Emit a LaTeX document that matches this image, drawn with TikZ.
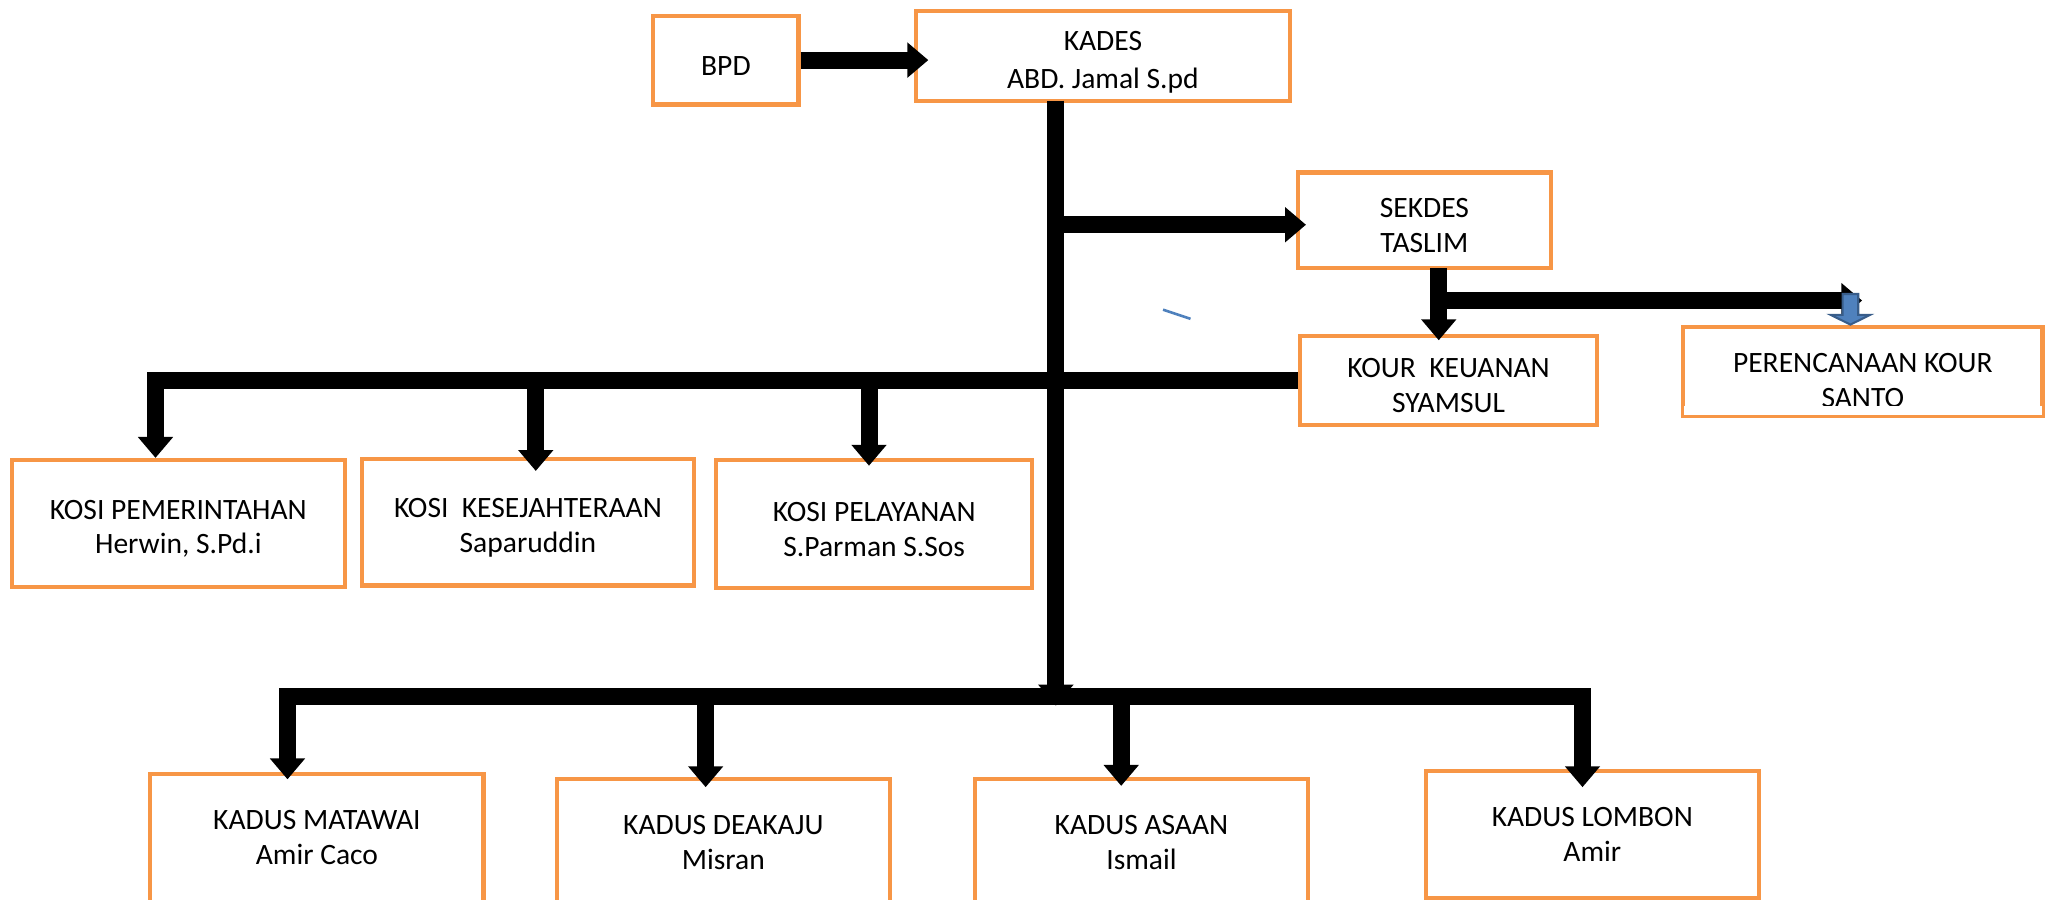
\documentclass[tikz,border=0pt]{standalone}
\usepackage{fontspec}
\setmainfont{Carlito}
\usetikzlibrary{arrows.meta}
\definecolor{boxorange}{HTML}{F79646}
\definecolor{ablue}{HTML}{4F81BD}
\definecolor{ablueedge}{HTML}{385D8A}
\begin{document}
\begin{tikzpicture}[x=0.5pt,y=-0.5pt,
  box/.style={draw=boxorange, line width=1.6pt, inner sep=0pt, align=center,
              font=\fontsize{11.3}{13.3}\selectfont},
  bar/.style={line width=6.5pt, draw=black},
  tip/.style={-{Triangle[width=13pt,length=8pt]}},
  tips/.style={{Triangle[width=13pt,length=8pt]}-{Triangle[width=13pt,length=8pt]}},
  bluearrow/.style={draw=ablueedge, fill=ablue, line width=0.8pt, line join=miter}
]
\useasboundingbox (0,0) rectangle (1568,688);
\newcommand\lowr{\rule{0pt}{11.5pt}}

% boxes
\node[box, minimum width=55.5pt, minimum height=34pt] (bpd) at (555.5,46) {\lowr BPD};
\node[box, minimum width=143pt, minimum height=34.5pt] (kades) at (844,43) {\rule{0pt}{12pt}KADES\\[1pt]ABD. Jamal S.pd};
\node[box, minimum width=97pt, minimum height=36.5pt] (sekdes) at (1090,168.5) {\lowr SEKDES\\TASLIM};
\node[box, minimum width=113.5pt, minimum height=34pt] (kour) at (1108.5,291) {\lowr KOUR\ \ KEUANAN\\SYAMSUL};
\node[box, minimum width=137.5pt, minimum height=34pt] (peren) at (1425.5,284) {\rule{0pt}{14.5pt}PERENCANAAN KOUR\\SANTO};
\node[box, minimum width=127.5pt, minimum height=48.5pt] (kosi1) at (136.5,400.5) {\lowr KOSI PEMERINTAHAN\\Herwin, S.Pd.i};
\node[box, minimum width=127pt, minimum height=48.5pt] (kosi2) at (404,399.5) {\lowr KOSI\ \ KESEJAHTERAAN\\Saparuddin};
\node[box, minimum width=121pt, minimum height=49pt] (kosi3) at (669,401) {\lowr KOSI PELAYANAN\\S.Parman S.Sos};
\node[box, minimum width=127.5pt, minimum height=49pt] (kadus1) at (242.5,641) {KADUS MATAWAI\\Amir Caco};
\node[box, minimum width=127.5pt, minimum height=49pt] (kadus2) at (553.5,645) {KADUS DEAKAJU\\Misran};
\node[box, minimum width=127.5pt, minimum height=49pt] (kadus3) at (873.5,645) {KADUS ASAAN\\Ismail};
\node[box, minimum width=127.5pt, minimum height=48.5pt] (kadus4) at (1218.5,638.5) {KADUS LOMBON\\Amir};

% text of PERENCANAAN is cut off at the bottom of its text area
\fill[white] ([xshift=1pt,yshift=1pt]peren.south west) rectangle ([xshift=-1pt,yshift=4.6pt]peren.south east);

% junction coordinates
\coordinate (trTop) at (808,77);
\coordinate (trEnd) at (808,540);
\coordinate (jSek) at (808,172);
\coordinate (kosiL) at (119,291);
\coordinate (k2) at (410,291);
\coordinate (k3) at (665,291);
\coordinate (sk) at (1101,205);
\coordinate (rj) at (1101,230);
\coordinate (rtip) at (1425,230);
\coordinate (lbL) at (220,533);
\coordinate (lbR) at (1211,533);
\coordinate (d2) at (540,533);
\coordinate (d3) at (858,533);
\coordinate (bl) at (1416,225);

% connectors
\draw[bar,tip] (bpd.east) -- ([xshift=5.5pt]bpd.east -| kades.west);
\draw[bar,tip] (trTop) -- (trEnd);
\draw[bar,tip] (jSek) -- ([xshift=4pt]jSek -| sekdes.west);
\draw[bar,tip] (sk) -- ([yshift=-2.5pt]sk |- kour.north);
\draw[bar,tip] (rj) -- (rtip);
\draw[bar,tip] (kour.west) -- (kosiL) -- (kosiL |- kosi1.north);
\draw[bar,tip] (k2) -- ([yshift=-5.5pt]k2 |- kosi2.north);
\draw[bar,tip] (k3) -- ([yshift=-3pt]k3 |- kosi3.north);
\draw[bar,tips] ([yshift=-3pt]lbL |- kadus1.north) -- (lbL) -- (lbR) -- ([yshift=-7pt]lbR |- kadus4.north);
\draw[bar,tip] (d2) -- ([yshift=-4pt]d2 |- kadus2.north);
\draw[bar,tip] (d3) -- ([yshift=-3.5pt]d3 |- kadus3.north);

% blue block arrow into PERENCANAAN
\draw[bluearrow] ([xshift=-3pt]bl) -- ([xshift=3pt]bl) -- ([xshift=3pt,yshift=-8pt]bl)
  -- ([xshift=7.5pt,yshift=-8pt]bl) -- (bl |- peren.north)
  -- ([xshift=-7.5pt,yshift=-8pt]bl) -- ([xshift=-3pt,yshift=-8pt]bl) -- cycle;

% stray blue stroke
\draw[ablue, line width=1pt] (890,237) -- (911,244);
\end{tikzpicture}
\end{document}
